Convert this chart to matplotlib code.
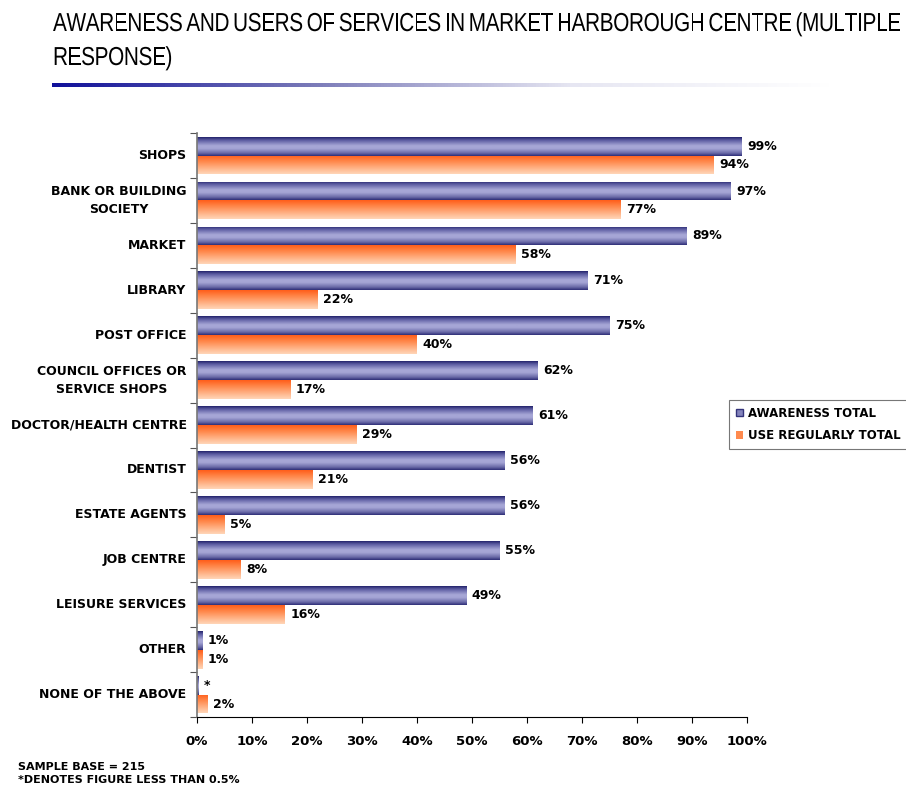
import numpy as np
import matplotlib
matplotlib.use("Agg")
import matplotlib.pyplot as plt
from matplotlib.colors import LinearSegmentedColormap
from matplotlib.patches import Patch, PathPatch
from matplotlib.textpath import TextPath, text_to_path
from matplotlib.font_manager import FontProperties
from matplotlib.transforms import Affine2D

categories = ["SHOPS", "BANK OR BUILDING\nSOCIETY", "MARKET", "LIBRARY", "POST OFFICE",
              "COUNCIL OFFICES OR\nSERVICE SHOPS", "DOCTOR/HEALTH CENTRE", "DENTIST",
              "ESTATE AGENTS", "JOB CENTRE", "LEISURE SERVICES", "OTHER", "NONE OF THE ABOVE"]
awareness = [99, 97, 89, 71, 75, 62, 61, 56, 56, 55, 49, 1, 0.3]
awareness_labels = ["99%", "97%", "89%", "71%", "75%", "62%", "61%", "56%", "56%", "55%",
                    "49%", "1%", "*"]
use_regularly = [94, 77, 58, 22, 40, 17, 29, 21, 5, 8, 16, 1, 2]
title_lines = ["AWARENESS AND USERS OF SERVICES IN MARKET HARBOROUGH CENTRE (MULTIPLE",
               "RESPONSE)"]

plt.rcParams["font.family"] = ["DejaVu Sans"]

fig = plt.figure(figsize=(9.06, 7.87), dpi=100)
fig.patch.set_facecolor("white")

# tightly tracked title drawn glyph by glyph
title_size = 26
title_font = FontProperties(family="Liberation Sans", size=title_size)
squeeze = 0.8

def advances(line):
    out = []
    for c in line:
        w = text_to_path.get_text_width_height_descent(c, title_font, ismath=False)[0] * squeeze
        out.append(w * 0.75 if c == " " else w)
    return out

adv0 = advances(title_lines[0])
track = (sum(adv0) - 848) / (len(adv0) - 1)

for line, base in zip(title_lines, [756, 722]):
    x = 53.0
    for c, a in zip(line, advances(line)):
        if c != " ":
            tp = TextPath((0, 0), c, size=title_size, prop=title_font)
            tr = Affine2D().scale(squeeze, 1).translate(x, base)
            fig.add_artist(PathPatch(tp, transform=tr, facecolor="black", edgecolor="none"))
        x += a - track

rule = fig.add_axes([0.057, 0.889, 0.86, 0.006])
fade = np.linspace(0, 1, 256).reshape(1, -1)
rule_cmap = LinearSegmentedColormap.from_list("rule", ["#10109a", "#7a7ab8", "#e6e6f2", "#ffffff"])
rule.imshow(fade, aspect="auto", cmap=rule_cmap)
rule.axis("off")

ax = fig.add_axes([0.2174, 0.0889, 0.607, 0.742])
y = np.arange(len(categories))
h = 0.42

aw_bars = ax.barh(y - h / 2, awareness, height=h, color="none", edgecolor="none")
use_bars = ax.barh(y + h / 2, use_regularly, height=h, color="none", edgecolor="none")

aw_cmap = LinearSegmentedColormap.from_list(
    "aw", [(0, "#23236b"), (0.15, "#5a5aa0"), (0.45, "#a6a6d6"), (0.6, "#a6a6d6"),
           (0.85, "#6a6aa8"), (1, "#2e2e78")])
use_cmap = LinearSegmentedColormap.from_list(
    "use", [(0, "#ff5e1a"), (0.35, "#ff8a4e"), (1, "#ffd6b8")])
grad = np.linspace(0, 1, 64).reshape(-1, 1)

def fill_gradient(bars, cmap):
    for p in bars:
        x0, y0, w, bh = p.get_x(), p.get_y(), p.get_width(), p.get_height()
        if w <= 0:
            continue
        im = ax.imshow(grad, cmap=cmap, aspect="auto", extent=[x0, x0 + w, y0 + bh, y0],
                       interpolation="bilinear", zorder=2)
        im.set_clip_path(p)

fill_gradient(aw_bars, aw_cmap)
fill_gradient(use_bars, use_cmap)

for yi, v, lab in zip(y, awareness, awareness_labels):
    ax.text(v + 1, yi - h / 2, lab, va="center", ha="left", fontsize=9, fontweight="bold")
for yi, v in zip(y, use_regularly):
    ax.text(v + 1, yi + h / 2, f"{v}%", va="center", ha="left", fontsize=9, fontweight="bold")

ax.set_xlim(0, 100)
ax.set_ylim(len(categories) - 0.5, -0.5)
ax.set_xticks(np.arange(0, 101, 10))
ax.set_xticklabels([f"{t}%" for t in range(0, 101, 10)], fontsize=9.5, fontweight="bold")
ax.tick_params(axis="x", length=4, pad=9)

# category names sit between the slot ticks
ax.set_yticks(np.arange(-0.5, len(categories), 1))
ax.set_yticklabels([])
ax.tick_params(axis="y", length=5, color="#555555")
for yi, name in zip(y, categories):
    ax.text(-1.9, yi, name, ha="right", va="center", fontsize=9, fontweight="bold",
            multialignment="center", linespacing=1.5)

ax.spines["top"].set_visible(False)
ax.spines["right"].set_visible(False)
ax.spines["left"].set_color("#777777")
ax.spines["left"].set_linewidth(1.2)

handles = [Patch(facecolor="#8484bc", edgecolor="#33337a"),
           Patch(facecolor="#ff8a4e", edgecolor="none")]
leg = fig.legend(handles, ["AWARENESS TOTAL", "USE REGULARLY TOTAL"], loc="upper left",
                 bbox_to_anchor=(0.805, 0.492), frameon=True, fancybox=False,
                 prop={"size": 8.5, "weight": "bold"}, handlelength=0.6, handleheight=0.6,
                 handletextpad=0.35, borderpad=0.6, labelspacing=0.8, borderaxespad=0)
leg.get_frame().set_edgecolor("#555555")
leg.get_frame().set_linewidth(0.8)

fig.text(0.02, 0.032, "SAMPLE BASE = 215\n*DENOTES FIGURE LESS THAN 0.5%", ha="left", va="top",
         fontsize=8, fontweight="bold", linespacing=1.35)

fig.savefig("out.png", dpi=100)
